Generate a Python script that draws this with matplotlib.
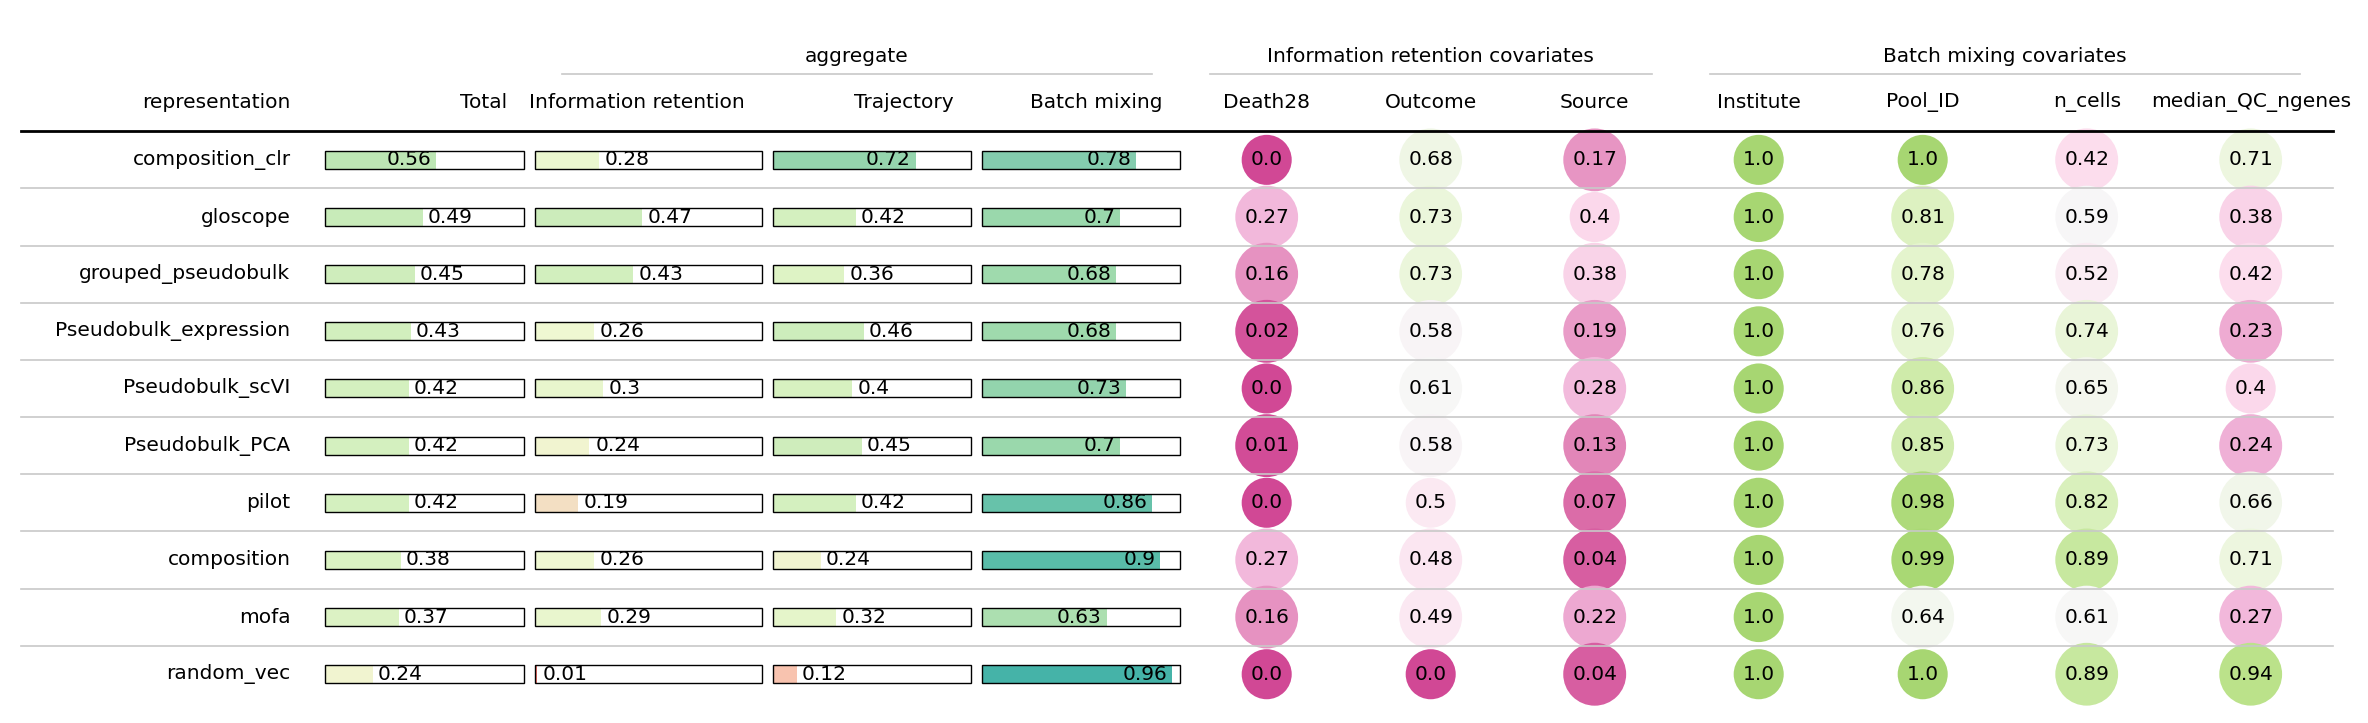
import numpy as np
import matplotlib
matplotlib.use("Agg")
import matplotlib.pyplot as plt
from matplotlib.colors import LinearSegmentedColormap
from matplotlib.patches import Rectangle

# Daten
methods = ["composition_clr", "gloscope", "grouped_pseudobulk", "Pseudobulk_expression",
           "Pseudobulk_scVI", "Pseudobulk_PCA", "pilot", "composition", "mofa", "random_vec"]

total = [0.56, 0.49, 0.45, 0.43, 0.42, 0.42, 0.42, 0.38, 0.37, 0.24]
info_retention = [0.28, 0.47, 0.43, 0.26, 0.3, 0.24, 0.19, 0.26, 0.29, 0.01]
trajectory = [0.72, 0.42, 0.36, 0.46, 0.4, 0.45, 0.42, 0.24, 0.32, 0.12]
batch_mixing = [0.78, 0.7, 0.68, 0.68, 0.73, 0.7, 0.86, 0.9, 0.63, 0.96]

death28 = [0.0, 0.27, 0.16, 0.02, 0.0, 0.01, 0.0, 0.27, 0.16, 0.0]
outcome = [0.68, 0.73, 0.73, 0.58, 0.61, 0.58, 0.5, 0.48, 0.49, 0.0]
source = [0.17, 0.4, 0.38, 0.19, 0.28, 0.13, 0.07, 0.04, 0.22, 0.04]
institute = [1.0, 1.0, 1.0, 1.0, 1.0, 1.0, 1.0, 1.0, 1.0, 1.0]
pool_id = [1.0, 0.81, 0.78, 0.76, 0.86, 0.85, 0.98, 0.99, 0.64, 1.0]
n_cells = [0.42, 0.59, 0.52, 0.74, 0.65, 0.73, 0.82, 0.89, 0.61, 0.89]
median_qc_ngenes = [0.71, 0.38, 0.42, 0.23, 0.4, 0.24, 0.66, 0.71, 0.27, 0.94]

bar_cols = ["Total", "Information retention", "Trajectory", "Batch mixing"]
bar_data = [total, info_retention, trajectory, batch_mixing]
circle_cols = ["Death28", "Outcome", "Source", "Institute", "Pool_ID", "n_cells", "median_QC_ngenes"]
circle_data = [death28, outcome, source, institute, pool_id, n_cells, median_qc_ngenes]
groups = ["aggregate", "Information retention covariates", "Batch mixing covariates"]

# Farben
bar_cmap = LinearSegmentedColormap.from_list("bars", [
    (0.0, "#ee6a64"), (0.12, "#f8c5b0"), (0.19, "#f3e0c3"), (0.25, "#f0f8d3"),
    (0.4, "#d7f1c0"), (0.56, "#bde6b4"), (0.7, "#9bd8ac"), (0.78, "#84ccae"),
    (0.86, "#68c2aa"), (0.96, "#45b3a8"), (1.0, "#3caea6")])
piyg = plt.get_cmap("PiYG")


def circle_color(v):
    return piyg(0.15 + 0.58 * v)


plt.rcParams.update({'font.family': 'DejaVu Sans'})
fs = 14.5

fig = plt.figure(figsize=(23.68, 7.23), dpi=100)
ax = fig.add_axes([0, 0, 1, 1])
ax.set_xlim(0, 2368)
ax.set_ylim(723, 0)
ax.axis("off")

# Layout (Pixel)
left, right = 21, 2333
head_line = 130.7
row_top = 131.3
row_h = 57.15
header_y = 102
group_y = 57
group_line_y = 73.7
label_x = 290.5
bar_spans = [(325, 524), (535, 762), (773, 971), (981.5, 1180)]
bar_h = 18
circle_x0, circle_dx = 1266.7, 164

n = len(methods)
centers = [row_top + row_h * (i + 0.5) for i in range(n)]

# Kopfzeile
ax.text(label_x, header_y, "representation", ha="right", va="center", fontsize=fs)
for (x0, x1), name in zip(bar_spans, bar_cols):
    ax.text(x1 - 17, header_y, name, ha="right", va="center", fontsize=fs)
for k, name in enumerate(circle_cols):
    ax.text(circle_x0 + circle_dx * k, header_y, name, ha="center", va="center", fontsize=fs)

group_spans = [(561.6, 1151.5), (1209.8, 1652), (1710, 2300)]
for (x0, x1), g in zip(group_spans, groups):
    ax.text((x0 + x1) / 2, group_y, g, ha="center", va="center", fontsize=fs)
    ax.plot([x0, x1], [group_line_y, group_line_y], color="#c8c8c8", lw=1.2)

ax.plot([left, right], [head_line, head_line], color="black", lw=2, zorder=5)
for i in range(n - 1):
    yb = row_top + row_h * (i + 1)
    ax.plot([left, right], [yb, yb], color="#c8c8c8", lw=1.2, zorder=5)

# Zeilen
for i, yc in enumerate(centers):
    ax.text(label_x, yc, methods[i], ha="right", va="center", fontsize=fs)

    for (x0, x1), vals in zip(bar_spans, bar_data):
        v = vals[i]
        w = x1 - x0
        ax.add_patch(Rectangle((x0, yc - bar_h / 2), v * w, bar_h, fc=bar_cmap(v), ec="none", zorder=2))
        ax.add_patch(Rectangle((x0, yc - bar_h / 2), w, bar_h, fc="none", ec="black", lw=1, zorder=3))
        if v < 0.5:
            ax.text(x0 + v * w + 0.025 * w, yc, str(v), ha="left", va="center", fontsize=fs, zorder=4)
        else:
            ax.text(x0 + v * w - 0.025 * w, yc, str(v), ha="right", va="center", fontsize=fs, zorder=4)

    for k, vals in enumerate(circle_data):
        v = vals[i]
        ax.text(circle_x0 + circle_dx * k, yc, str(v), ha="center", va="center", fontsize=fs,
                zorder=4, bbox=dict(boxstyle="circle,pad=0.445", fc=circle_color(v), ec="none"))

fig.savefig("out.png", dpi=100)
